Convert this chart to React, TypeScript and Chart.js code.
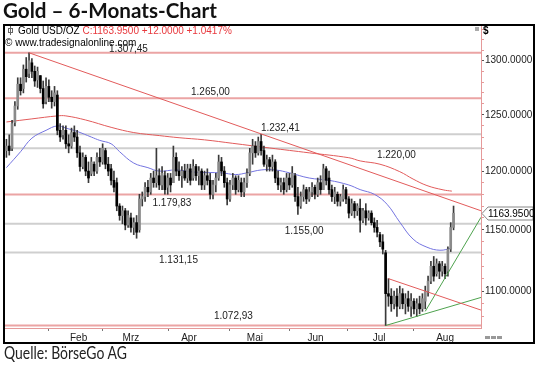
import React, { useEffect, useRef } from 'react';
import { Chart, registerables } from 'chart.js';

Chart.register(...registerables);

// ---- daily OHLC (Gold USD/OZ), bar index 0..158 ----
const opens = [
  1218, 1222, 1220, 1243, 1258, 1278, 1274, 1292, 1288, 1298,
  1290, 1282, 1286, 1274, 1262, 1276, 1266, 1262, 1268, 1236,
  1232, 1236, 1224, 1222, 1234, 1230, 1216, 1204, 1212, 1200,
  1198, 1206, 1200, 1212, 1208, 1218, 1206, 1202, 1192, 1190,
  1170, 1162, 1166, 1154, 1160, 1152, 1156, 1150, 1176, 1178,
  1186, 1182, 1194, 1190, 1196, 1188, 1196, 1186, 1194, 1190,
  1212, 1200, 1196, 1200, 1194, 1202, 1194, 1204, 1196, 1200,
  1188, 1196, 1192, 1180, 1188, 1194, 1208, 1200, 1190, 1176,
  1188, 1194, 1184, 1190, 1182, 1190, 1198, 1216, 1222, 1216,
  1226, 1218, 1206, 1210, 1204, 1208, 1194, 1188, 1190, 1184,
  1194, 1188, 1196, 1178, 1170, 1178, 1184, 1176, 1182, 1186,
  1180, 1190, 1184, 1202, 1194, 1184, 1178, 1180, 1174, 1176,
  1184, 1176, 1164, 1172, 1166, 1168, 1158, 1166, 1160, 1164,
  1156, 1152, 1146, 1140, 1131, 1098, 1096, 1090, 1096, 1088,
  1098, 1090, 1094, 1088, 1092, 1086, 1090, 1086, 1092, 1100,
  1108, 1120, 1114, 1122, 1116, 1120, 1116, 1134, 1152,
];
const highs = [
  1228, 1232, 1245, 1262, 1284, 1284, 1296, 1303, 1307.45, 1302,
  1295, 1294, 1286, 1281, 1284, 1282, 1272, 1276, 1272, 1242,
  1240, 1240, 1232, 1238, 1240, 1236, 1222, 1216, 1214, 1208,
  1212, 1208, 1216, 1220, 1224, 1220, 1212, 1206, 1200, 1194,
  1172, 1170, 1168, 1166, 1164, 1160, 1162, 1180, 1182, 1190,
  1192, 1198, 1200, 1220, 1202, 1204, 1200, 1198, 1198, 1222,
  1216, 1208, 1204, 1206, 1206, 1206, 1210, 1206, 1204, 1202,
  1200, 1202, 1198, 1192, 1198, 1214, 1212, 1204, 1194, 1192,
  1198, 1196, 1196, 1194, 1194, 1202, 1220, 1228, 1226, 1230,
  1232.41, 1222, 1214, 1212, 1214, 1210, 1200, 1194, 1194, 1198,
  1198, 1204, 1198, 1186, 1182, 1188, 1186, 1186, 1190, 1188,
  1194, 1196, 1206, 1204, 1200, 1188, 1186, 1182, 1180, 1188,
  1186, 1178, 1176, 1174, 1172, 1176, 1168, 1172, 1166, 1166,
  1160, 1158, 1148, 1146, 1133, 1110, 1102, 1100, 1102, 1104,
  1102, 1098, 1100, 1098, 1094, 1094, 1096, 1098, 1104, 1112,
  1124, 1128, 1126, 1124, 1124, 1122, 1136, 1156, 1170,
];
const lows = [
  1212, 1214, 1218, 1240, 1255, 1268, 1270, 1280, 1284, 1284,
  1276, 1275, 1270, 1256, 1260, 1262, 1256, 1258, 1232, 1226,
  1228, 1220, 1216, 1220, 1226, 1212, 1200, 1202, 1196, 1190,
  1196, 1196, 1198, 1204, 1206, 1202, 1196, 1188, 1182, 1166,
  1158, 1155, 1150, 1152, 1148, 1146, 1143, 1148, 1170, 1174,
  1178, 1180, 1186, 1186, 1184, 1184, 1180, 1180, 1182, 1190,
  1196, 1192, 1186, 1192, 1190, 1188, 1192, 1192, 1188, 1184,
  1184, 1188, 1176, 1176, 1182, 1192, 1196, 1186, 1171, 1174,
  1184, 1180, 1182, 1178, 1178, 1186, 1196, 1206, 1212, 1214,
  1214, 1204, 1200, 1200, 1200, 1190, 1184, 1182, 1180, 1182,
  1184, 1186, 1174, 1163, 1168, 1174, 1172, 1174, 1178, 1176,
  1178, 1180, 1184, 1188, 1180, 1174, 1172, 1170, 1170, 1174,
  1172, 1160, 1162, 1160, 1162, 1148, 1156, 1154, 1158, 1154,
  1148, 1144, 1136, 1130, 1072.93, 1088, 1084, 1086, 1080, 1086,
  1086, 1082, 1084, 1080, 1082, 1080, 1082, 1084, 1086, 1096,
  1106, 1108, 1112, 1110, 1112, 1110, 1112, 1132, 1150,
];
const closes = [
  1222, 1218, 1242, 1258, 1278, 1272, 1292, 1285, 1300, 1290,
  1281, 1290, 1274, 1260, 1276, 1266, 1262, 1270, 1236, 1230,
  1236, 1224, 1222, 1234, 1230, 1216, 1204, 1212, 1200, 1194,
  1208, 1200, 1212, 1208, 1220, 1206, 1200, 1192, 1186, 1170,
  1162, 1166, 1154, 1162, 1152, 1156, 1148, 1176, 1178, 1186,
  1182, 1194, 1190, 1196, 1188, 1198, 1184, 1194, 1188, 1212,
  1200, 1196, 1200, 1194, 1202, 1192, 1204, 1196, 1200, 1188,
  1196, 1192, 1180, 1188, 1194, 1208, 1200, 1190, 1176, 1188,
  1194, 1184, 1192, 1182, 1190, 1198, 1216, 1222, 1216, 1226,
  1218, 1206, 1210, 1204, 1208, 1194, 1188, 1190, 1184, 1194,
  1188, 1198, 1178, 1170, 1178, 1184, 1176, 1182, 1186, 1180,
  1190, 1184, 1202, 1192, 1184, 1178, 1182, 1174, 1178, 1184,
  1176, 1164, 1172, 1166, 1170, 1158, 1166, 1160, 1164, 1156,
  1152, 1148, 1140, 1134, 1098, 1096, 1090, 1096, 1088, 1098,
  1090, 1094, 1088, 1092, 1086, 1090, 1086, 1094, 1100, 1108,
  1120, 1112, 1122, 1116, 1120, 1114, 1134, 1151.95, 1163.95,
];

// ---- moving averages (sampled at bar indices) ----
const blueMaIdx = [0, 5, 9, 14, 18, 21, 25, 30, 33, 37, 40, 45, 50, 54, 60, 67, 76, 81, 85, 90, 95, 100, 107, 114, 121, 125, 130, 134.5, 139, 143.7, 148.6, 153.2, 157.4];
const blueMaVal = [1203, 1217, 1229, 1236, 1240, 1238, 1235, 1230, 1227, 1224, 1217, 1207, 1203, 1200, 1201, 1199, 1198.5, 1197, 1198.5, 1201, 1201, 1198.5, 1194, 1192, 1188, 1184, 1180, 1171.5, 1156.4, 1142.3, 1135.6, 1133.1, 1134.8];
const redMaIdx = [0, 9, 18, 21, 28, 37, 45, 54, 61, 70, 80, 93, 107, 121, 125, 132, 139, 143.7, 148.6, 154.3, 157.4];
const redMaVal = [1243.5, 1246.3, 1249, 1249, 1245.3, 1238.7, 1234, 1231.3, 1229.4, 1227.5, 1224.4, 1220.3, 1216, 1211.7, 1208.9, 1206, 1199.5, 1193.1, 1187.5, 1183.8, 1182.7];

// ---- horizontal support / resistance levels ----
const levelValues = [1307.45, 1265.0, 1232.41, 1220.0, 1179.83, 1155.0, 1131.15, 1072.93];
const levelLabels = ['1.307,45', '1.265,00', '1.232,41', '1.220,00', '1.179,83', '1.155,00', '1.131,15', '1.072,93'];
const levelIsRed = [true, true, false, false, true, false, false, true];
const levelLabelIdx = [43.1, 72.1, 96.8, 137.8, 58.5, 105.2, 60.8, 80.2];
const levelLabelDy = [-4, -6, -6, 7, 9, 7, 8, -9];

// ---- trend lines: [startIdx, startVal, endIdx, endVal] ----
const trendDown = [8, 1307.45, 167.7, 1166];
const channelTop = [135, 1110, 167.7, 1085];
const greenLow = [134, 1072.93, 167.7, 1095];
const greenSteep = [148, 1084, 167.7, 1160.5];

// ---- axes ----
const monthNames = ['Feb', 'Mrz', 'Apr', 'Mai', 'Jun', 'Jul', 'Aug'];
const monthStartIdx = [14.7, 34.1, 57.1, 78.7, 100.2, 120.7, 144.0];
const monthLabelIdx = [25.5, 44.0, 64.5, 87.8, 109.2, 131.7, 155.0];
const yMajor = [1100, 1150, 1200, 1250, 1300];
const yMinorStep = 10;

const X_MIN = -0.5;
const X_MAX = 167.7;
const Y_MIN = 1071;
const Y_MAX = 1333.1;
const lastClose = 1163.95;

const FONT = '"Liberation Sans", Arial, sans-serif';

export default function App() {
  const ref = useRef<HTMLCanvasElement>(null);

  useEffect(() => {
    const canvas = ref.current;
    if (!canvas) return;
    const idx = closes.map((_, i) => i);

    const yTicks: number[] = [];
    for (let v = 1080; v <= 1330; v += yMinorStep) yTicks.push(v);

    const lineSeg = (t: number[], color: string, order = 1) => ({
      type: 'line' as const,
      data: [{ x: t[0], y: t[1] }, { x: t[2], y: t[3] }],
      borderColor: color,
      borderWidth: 1,
      pointRadius: 0,
      tension: 0,
      order,
    });

    const decor = {
      id: 'decor',
      afterDraw(chart: any) {
        const ctx = chart.ctx as CanvasRenderingContext2D;
        const xs = chart.scales.x;
        const ys = chart.scales.y;
        ctx.save();
        // level labels
        ctx.font = `10px ${FONT}`;
        ctx.fillStyle = '#222';
        ctx.textAlign = 'center';
        ctx.textBaseline = 'middle';
        levelValues.forEach((v, k) => {
          ctx.fillText(levelLabels[k], xs.getPixelForValue(levelLabelIdx[k]), ys.getPixelForValue(v) + levelLabelDy[k]);
        });
        // header
        ctx.textAlign = 'left';
        ctx.textBaseline = 'alphabetic';
        ctx.fillStyle = '#000';
        const t1 = 'Gold USD/OZ ';
        ctx.fillText(t1, 18, 33.5);
        const w1 = ctx.measureText(t1).width;
        ctx.fillStyle = '#e8383d';
        ctx.fillText('C:1163.9500 +12.0000 +1.0417%', 18 + w1, 33.5);
        ctx.fillStyle = '#000';
        ctx.fillText('\u00a9 www.tradesignalonline.com', 5, 45.5);
        // header icon (tiny candle)
        ctx.strokeStyle = '#666';
        ctx.lineWidth = 1;
        ctx.beginPath();
        ctx.moveTo(10.5, 26); ctx.lineTo(10.5, 35);
        ctx.stroke();
        ctx.strokeRect(8.5, 28.5, 4, 4);
        // $ sign
        ctx.fillStyle = '#000';
        ctx.font = `bold 10px ${FONT}`;
        ctx.fillText('$', 483, 34);
        ctx.fillStyle = '#aaa';
        ctx.fillRect(475, 27, 4, 4);
        // price tag
        const py = Math.round(ys.getPixelForValue(lastClose)) + 0.5;
        ctx.beginPath();
        ctx.moveTo(482, py);
        ctx.lineTo(488, py - 6.5);
        ctx.lineTo(533, py - 6.5);
        ctx.lineTo(533, py + 6.5);
        ctx.lineTo(488, py + 6.5);
        ctx.closePath();
        ctx.fillStyle = '#fff';
        ctx.fill();
        ctx.strokeStyle = '#888';
        ctx.stroke();
        ctx.fillStyle = '#000';
        ctx.font = `10px ${FONT}`;
        ctx.textBaseline = 'middle';
        ctx.fillText(lastClose.toFixed(4), 488, py + 0.5);
        // scroll icons bottom right
        ctx.fillStyle = '#999';
        ctx.fillRect(485, 336, 5, 3);
        ctx.fillRect(491, 336, 5, 3);
        ctx.fillRect(497, 336, 5, 3);
        // outer frame
        ctx.strokeStyle = '#000';
        ctx.lineWidth = 2;
        ctx.strokeRect(4, 25, 530, 318);
        ctx.restore();
      },
    };

    const chart = new Chart(canvas, {
      type: 'bar',
      data: {
        datasets: [
          ...levelValues.map((v, k) => ({
            type: 'line' as const,
            data: [{ x: X_MIN, y: v }, { x: X_MAX, y: v }],
            borderColor: levelIsRed[k] ? '#eba4a4' : '#cfcfcf',
            borderWidth: 2,
            pointRadius: 0,
            order: 10,
          })),
          {
            type: 'line' as const,
            data: redMaIdx.map((x, k) => ({ x, y: redMaVal[k] })),
            borderColor: '#e25b5b',
            borderWidth: 1,
            pointRadius: 0,
            tension: 0.4,
            order: 5,
          },
          {
            type: 'line' as const,
            data: blueMaIdx.map((x, k) => ({ x, y: blueMaVal[k] })),
            borderColor: '#7474e0',
            borderWidth: 1,
            pointRadius: 0,
            tension: 0.4,
            order: 5,
          },
          {
            type: 'bar' as const,
            data: idx.map((i) => ({ x: i, y: [lows[i], highs[i]] })),
            backgroundColor: '#3a3a3a',
            barThickness: 1,
            grouped: false,
            order: 3,
          },
          {
            type: 'bar' as const,
            data: idx.map((i) => ({ x: i, y: [opens[i], closes[i]] })),
            backgroundColor: idx.map((i) => (closes[i] >= opens[i] ? '#8a8a8a' : '#000')),
            barThickness: 2,
            grouped: false,
            order: 2,
          },
          lineSeg(trendDown, '#e25b5b', 1),
          lineSeg(channelTop, '#e25b5b', 1),
          lineSeg(greenLow, '#4ea24e', 1),
          lineSeg(greenSteep, '#4ea24e', 1),
        ] as any,
      },
      options: {
        animation: false,
        responsive: false,
        maintainAspectRatio: false,
        events: [],
        layout: { padding: { left: 5, top: 26, right: 6, bottom: 22 } },
        plugins: { legend: { display: false }, tooltip: { enabled: false }, title: { display: false } },
        scales: {
          x: {
            type: 'linear',
            min: X_MIN,
            max: X_MAX,
            offset: false,
            afterBuildTicks: (s: any) => {
              s.ticks = [...monthStartIdx, ...monthLabelIdx].map((value) => ({ value }));
            },
            afterFit: (s: any) => {
              s.height = 15;
            },
            grid: {
              drawOnChartArea: false,
              offset: false,
              tickLength: 3,
              tickColor: (c: any) => (c.tick && monthStartIdx.includes(c.tick.value) ? '#777' : 'rgba(0,0,0,0)'),
            },
            border: { color: '#e59a9a', width: 1 },
            ticks: {
              autoSkip: false,
              maxRotation: 0,
              padding: 1,
              color: '#222',
              font: { family: FONT, size: 10 },
              callback: (v: any) => {
                const k = monthLabelIdx.indexOf(Number(v));
                return k >= 0 ? monthNames[k] : '';
              },
            },
          },
          y: {
            type: 'logarithmic',
            position: 'right',
            min: Y_MIN,
            max: Y_MAX,
            afterBuildTicks: (s: any) => {
              s.ticks = yTicks.map((value) => ({ value }));
            },
            afterFit: (s: any) => {
              s.width = 53;
            },
            grid: {
              drawOnChartArea: false,
              tickLength: 3,
              tickColor: (c: any) => (c.tick && yMajor.includes(c.tick.value) ? '#555' : '#e59a9a'),
            },
            border: { color: '#e59a9a', width: 1 },
            ticks: {
              autoSkip: false,
              padding: 1,
              color: '#222',
              font: { family: FONT, size: 10 },
              callback: (v: any) => (yMajor.includes(Number(v)) ? Number(v).toFixed(4) : ''),
            },
          },
        },
      } as any,
      plugins: [decor],
    });

    return () => chart.destroy();
  }, []);

  return (
    <div style={{ position: 'fixed', left: 0, top: 0, width: 540, height: 365, background: '#fff', overflow: 'hidden' }}>
      <canvas ref={ref} width={540} height={365} style={{ position: 'absolute', left: 0, top: 0, width: 540, height: 365 }} />
      <div
        style={{
          position: 'absolute', left: 3, top: -2.5, fontFamily: 'Lato, "Open Sans", sans-serif', fontWeight: 700,
          fontSize: 21.5, lineHeight: '24px', color: '#111', whiteSpace: 'nowrap', transformOrigin: 'left top', transform: 'scaleX(0.96)',
        }}
      >
        Gold – 6-Monats-Chart
      </div>
      <div
        style={{
          position: 'absolute', left: 4, top: 342, fontFamily: 'Lato, "Open Sans", sans-serif', fontWeight: 400,
          fontSize: 17, lineHeight: '22px', color: '#222', whiteSpace: 'nowrap', transformOrigin: 'left top', transform: 'scaleX(0.82)',
        }}
      >
        Quelle: BörseGo AG
      </div>
    </div>
  );
}
